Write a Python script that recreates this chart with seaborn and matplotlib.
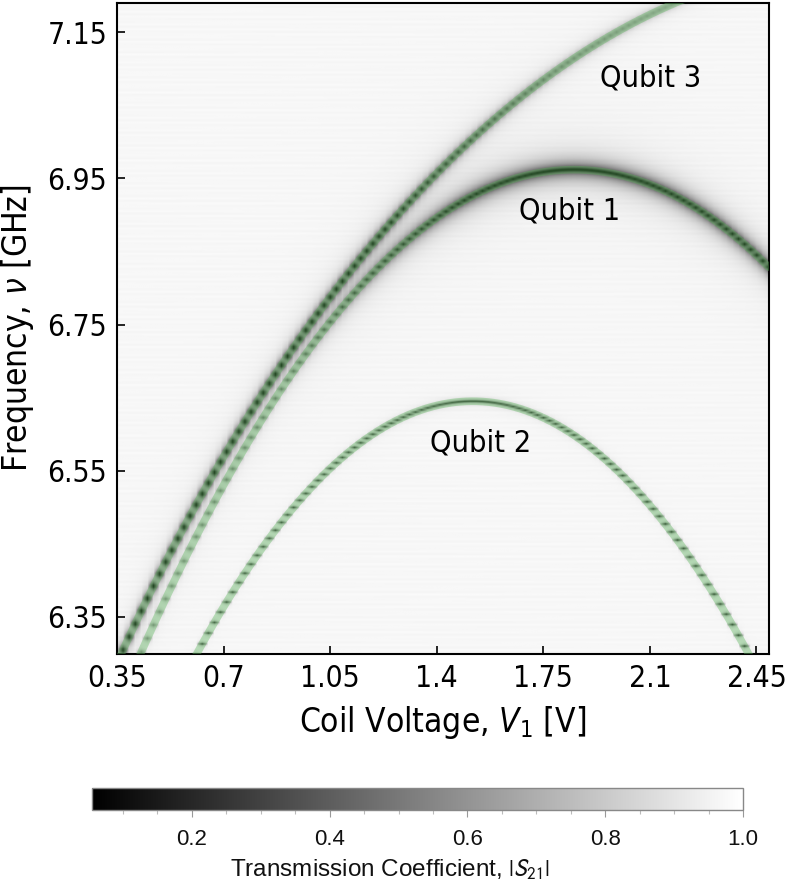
import numpy as np
import pandas as pd
import matplotlib
matplotlib.use("Agg")
import matplotlib.pyplot as plt
from matplotlib.ticker import MultipleLocator, FixedLocator
import seaborn as sns

# Coil-voltage sweep and probe-frequency grid of the spectroscopy scan
v_start, v_stop, v_step = 0.35, 2.49, 0.02      # V
f_start, f_stop, f_step = 6.296, 7.194, 0.001   # GHz

# Flux-dispersion fits  f(V) = f_off + f_amp * sqrt(|cos(k (V - V0))|)
qubit_names = ["Qubit 1", "Qubit 2", "Qubit 3"]
fit_off = [-7.478, -12.022, 4.950]    # GHz
fit_amp = [14.440, 18.667, 2.295]     # GHz
fit_v0 = [1.85, 1.518, 2.80]          # V
fit_k = [0.30, 0.30, 0.50]            # rad / V

# Dip depth along the sweep for each qubit line
depth_v = [0.35, 0.9, 1.2, 1.5, 1.8, 2.2, 2.49]
q1_depth = [0.40, 0.50, 0.75, 0.92, 0.94, 0.94, 0.94]
q2_depth = [0.80, 0.80, 0.80, 0.80, 0.82, 0.84, 0.86]
q3_depth = [0.995, 0.995, 0.96, 0.74, 0.47, 0.32, 0.30]
q1_halo = [0.0, 0.05, 0.28, 0.42, 0.42, 0.42, 0.42]
q3_halo = [0.22, 0.22, 0.18, 0.08, 0.03, 0.0, 0.0]
line_hwhm = [0.0028, 0.0015, 0.0045]   # GHz
halo_hwhm = [0.013, 0.0, 0.011]        # GHz

# Label anchors (V, GHz)
label_v = [1.836, 1.543, 2.102]
label_f = [6.906, 6.588, 7.087]

# Axis ticks
x_ticks = [0.35, 0.7, 1.05, 1.4, 1.75, 2.1, 2.45]
x_tick_labels = ["0.35", "0.7", "1.05", "1.4", "1.75", "2.1", "2.45"]
y_ticks = [6.35, 6.55, 6.75, 6.95, 7.15]
cbar_ticks = [0.2, 0.4, 0.6, 0.8, 1.0]
s21_min, s21_max = 0.055, 1.0


def dispersion(v, off, amp, v0, k):
    c = np.cos(k * (np.asarray(v) - v0))
    return off + amp * np.sqrt(np.clip(c, 0, None))


def lorentz(f, f0, g):
    return g ** 2 / ((f - f0) ** 2 + g ** 2)


sns.set_theme(style="ticks")
plt.rcParams["font.family"] = ["DejaVu Sans"]
plt.rcParams["font.stretch"] = "condensed"

volts = np.arange(v_start, v_stop + 1e-9, v_step)
freqs = np.arange(f_start, f_stop + 1e-9, f_step)
FF = freqs[:, None]

# faint horizontal striation of the background
rows = np.arange(freqs.size)[:, None]
cols = np.arange(volts.size)[None, :]
s21 = 0.980 - 0.018 * (0.5 + 0.5 * np.sin(rows * 0.91) * np.sin(rows * 0.173 + cols * 0.05))

depths = [q1_depth, q2_depth, q3_depth]
halos = [q1_halo, None, q3_halo]
for i in range(3):
    f0 = dispersion(volts, fit_off[i], fit_amp[i], fit_v0[i], fit_k[i])[None, :]
    d = np.interp(volts, depth_v, depths[i])[None, :]
    s21 = s21 * (1 - d * lorentz(FF, f0, line_hwhm[i]))
    if halos[i] is not None:
        h = np.interp(volts, depth_v, halos[i])[None, :]
        s21 = s21 * (1 - h * lorentz(FF, f0, halo_hwhm[i]))
s21 = np.clip(s21, s21_min, s21_max)

fig = plt.figure(figsize=(7.9, 8.91), dpi=100)
ax = fig.add_axes([0.148, 0.266, 0.825, 0.7305])
im = ax.imshow(
    s21, origin="lower", aspect="auto", interpolation="bilinear", cmap="gray",
    vmin=s21_min, vmax=s21_max,
    extent=[volts[0] - v_step / 2, volts[-1] + v_step / 2,
            freqs[0] - f_step / 2, freqs[-1] + f_step / 2],
)

# fitted dispersion curves
v_fine = np.linspace(v_start, v_stop, 600)
for i, name in enumerate(qubit_names):
    df = pd.DataFrame({"V": v_fine,
                       "f": dispersion(v_fine, fit_off[i], fit_amp[i], fit_v0[i], fit_k[i])})
    sns.lineplot(data=df, x="V", y="f", ax=ax, color="#5fb85f", alpha=0.4,
                 lw=5.5, sort=False, estimator=None, zorder=3)
    ax.text(label_v[i], label_f[i], name, fontsize=22, ha="center", va="center",
            color="black", zorder=4)

ax.set_xlim(v_start, v_stop)
ax.set_ylim(6.299, 7.19)
ax.xaxis.set_major_locator(FixedLocator(x_ticks))
ax.set_xticklabels(x_tick_labels)
ax.yaxis.set_major_locator(FixedLocator(y_ticks))
ax.set_yticklabels([f"{t:.2f}" for t in y_ticks])
ax.tick_params(direction="in", length=6, width=1.2, labelsize=21.5, pad=7,
               color="black", labelcolor="black")
for sp in ax.spines.values():
    sp.set_linewidth(1.5)
    sp.set_color("black")
ax.set_xlabel(r"Coil Voltage, $V_1$ [V]", fontsize=24, labelpad=8, color="black")
ax.set_ylabel(r"Frequency, $\nu$ [GHz]", fontsize=24, labelpad=8, color="black")

# horizontal colour bar
cax = fig.add_axes([0.1165, 0.0909, 0.824, 0.0247])
cb = fig.colorbar(im, cax=cax, orientation="horizontal")
cb.set_ticks(cbar_ticks)
cb.ax.set_xticklabels([f"{t:.1f}" for t in cbar_ticks], fontfamily="Liberation Sans",
                      fontstretch="normal")
cb.ax.xaxis.set_minor_locator(MultipleLocator(0.05))
cb.ax.tick_params(which="major", direction="out", length=5, width=0.8,
                  color="#999999", labelsize=16, pad=9, labelcolor="#111111")
cb.ax.tick_params(which="minor", direction="out", length=3, width=0.8,
                  color="#bbbbbb")
cb.outline.set_edgecolor("#888888")
cb.outline.set_linewidth(1.0)
cb.set_label(r"Transmission Coefficient, $|S_{21}|$", fontsize=17.5, color="#111111",
             fontfamily="Liberation Sans", fontstretch="normal",
             math_fontfamily="stixsans")
cb.ax.xaxis.set_label_coords(0.458, -2.15)

fig.savefig("out.png", dpi=100)
